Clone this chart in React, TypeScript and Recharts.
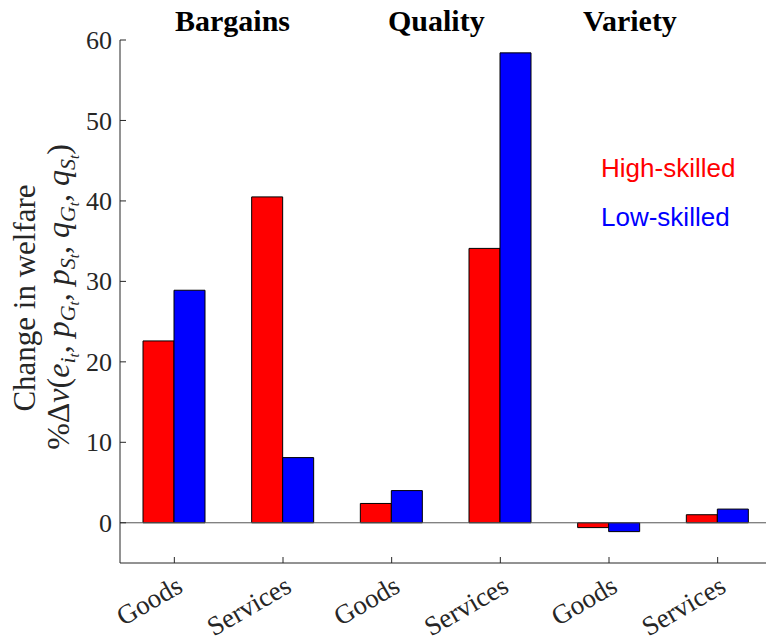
import React from "react";
import { Bar, BarChart, ReferenceLine, XAxis, YAxis } from "recharts";

const categories = ["Goods", "Services", "Goods", "Services", "Goods", "Services"];
const highSkilled = [22.6, 40.5, 2.4, 34.1, -0.6, 1.0];
const lowSkilled = [28.9, 8.1, 4.0, 58.4, -1.1, 1.7];
const yTicks = [0, 10, 20, 30, 40, 50, 60];
const groups = [
  { name: "Bargains", x: 175 },
  { name: "Quality", x: 388 },
  { name: "Variety", x: 583 },
];

const data = categories.map((c, i) => ({ id: i, name: c, high: highSkilled[i], low: lowSkilled[i] }));

const AXIS = "#262626";
const SERIF = "'Liberation Serif', serif";

function XTick(props: any) {
  const { x, y, payload } = props;
  const label = categories[payload.value];
  return (
    <g>
      <line x1={x} x2={x} y1={y} y2={y - 6} stroke={AXIS} strokeWidth={1} />
      <text
        x={x + 10}
        y={y + 28}
        textAnchor="end"
        transform={`rotate(-30, ${x + 10}, ${y + 28})`}
        fontFamily={SERIF}
        fontSize={27}
        fill={AXIS}
      >
        {label}
      </text>
    </g>
  );
}

function YTick(props: any) {
  const { x, y, payload } = props;
  return (
    <g>
      <line x1={x} x2={x + 6} y1={y} y2={y} stroke={AXIS} strokeWidth={1} />
      <text x={x - 8} y={y} dy="0.35em" textAnchor="end" fontFamily={SERIF} fontSize={26} fill={AXIS}>
        {payload.value}
      </text>
    </g>
  );
}

const sub = (base: string, s: string) => [
  <tspan key={base + s + "b"} fontStyle="italic">{base}</tspan>,
  <tspan key={base + s + "s"} fontStyle="italic" fontSize={22} dy={6}>{s}</tspan>,
  <tspan key={base + s + "t"} fontStyle="italic" fontSize={15} dy={4}>t</tspan>,
];

export default function App() {
  return (
    <div style={{ position: "fixed", left: 0, top: 0, width: 766, height: 641, overflow: "hidden", background: "#fff" }}>
      <BarChart
        width={780}
        height={641}
        data={data}
        margin={{ top: 40, right: 8, bottom: 0, left: 0 }}
        barGap={0}
        barSize={31}
      >
        <XAxis
          dataKey="id"
          type="category"
          height={78}
          tickSize={0}
          tickMargin={0}
          tickLine={false}
          axisLine={{ stroke: AXIS }}
          tick={<XTick />}
          interval={0}
        />
        <YAxis
          width={120}
          domain={[-5, 60]}
          ticks={yTicks}
          tickSize={0}
          tickMargin={0}
          tickLine={false}
          axisLine={{ stroke: AXIS }}
          tick={<YTick />}
          interval={0}
        />
        <ReferenceLine y={0} stroke="#555" strokeWidth={1} />
        <Bar dataKey="high" fill="#ff0000" stroke="#000" strokeWidth={1} isAnimationActive={false} />
        <Bar dataKey="low" fill="#0000ff" stroke="#000" strokeWidth={1} isAnimationActive={false} />
      </BarChart>
      <svg width={766} height={641} style={{ position: "absolute", left: 0, top: 0, pointerEvents: "none" }}>
        {groups.map((g) => (
          <text key={g.name} x={g.x} y={31} fontFamily={SERIF} fontWeight="bold" fontSize={30} fill="#000">
            {g.name}
          </text>
        ))}
        <text x={601} y={177} fontFamily="'Liberation Sans', Arial, sans-serif" fontSize={26} fill="#ff0000">
          High-skilled
        </text>
        <text x={601} y={226} fontFamily="'Liberation Sans', Arial, sans-serif" fontSize={26} fill="#0000ff">
          Low-skilled
        </text>
        <text
          transform="translate(35, 298) rotate(-90)"
          textAnchor="middle"
          fontFamily={SERIF}
          fontSize={31}
          fill={AXIS}
        >
          Change in welfare
        </text>
        <text
          transform="translate(69, 297) rotate(-90)"
          textAnchor="middle"
          fontFamily={SERIF}
          fontSize={32}
          fill={AXIS}
        >
          <tspan>%Δ</tspan>
          <tspan fontStyle="italic">v</tspan>
          <tspan>(</tspan>
          {sub("e", "i")}
          <tspan dy={-10}>, </tspan>
          {sub("p", "G")}
          <tspan dy={-10}>, </tspan>
          {sub("p", "S")}
          <tspan dy={-10}>, </tspan>
          {sub("q", "G")}
          <tspan dy={-10}>, </tspan>
          {sub("q", "S")}
          <tspan dy={-10}>)</tspan>
        </text>
      </svg>
    </div>
  );
}
